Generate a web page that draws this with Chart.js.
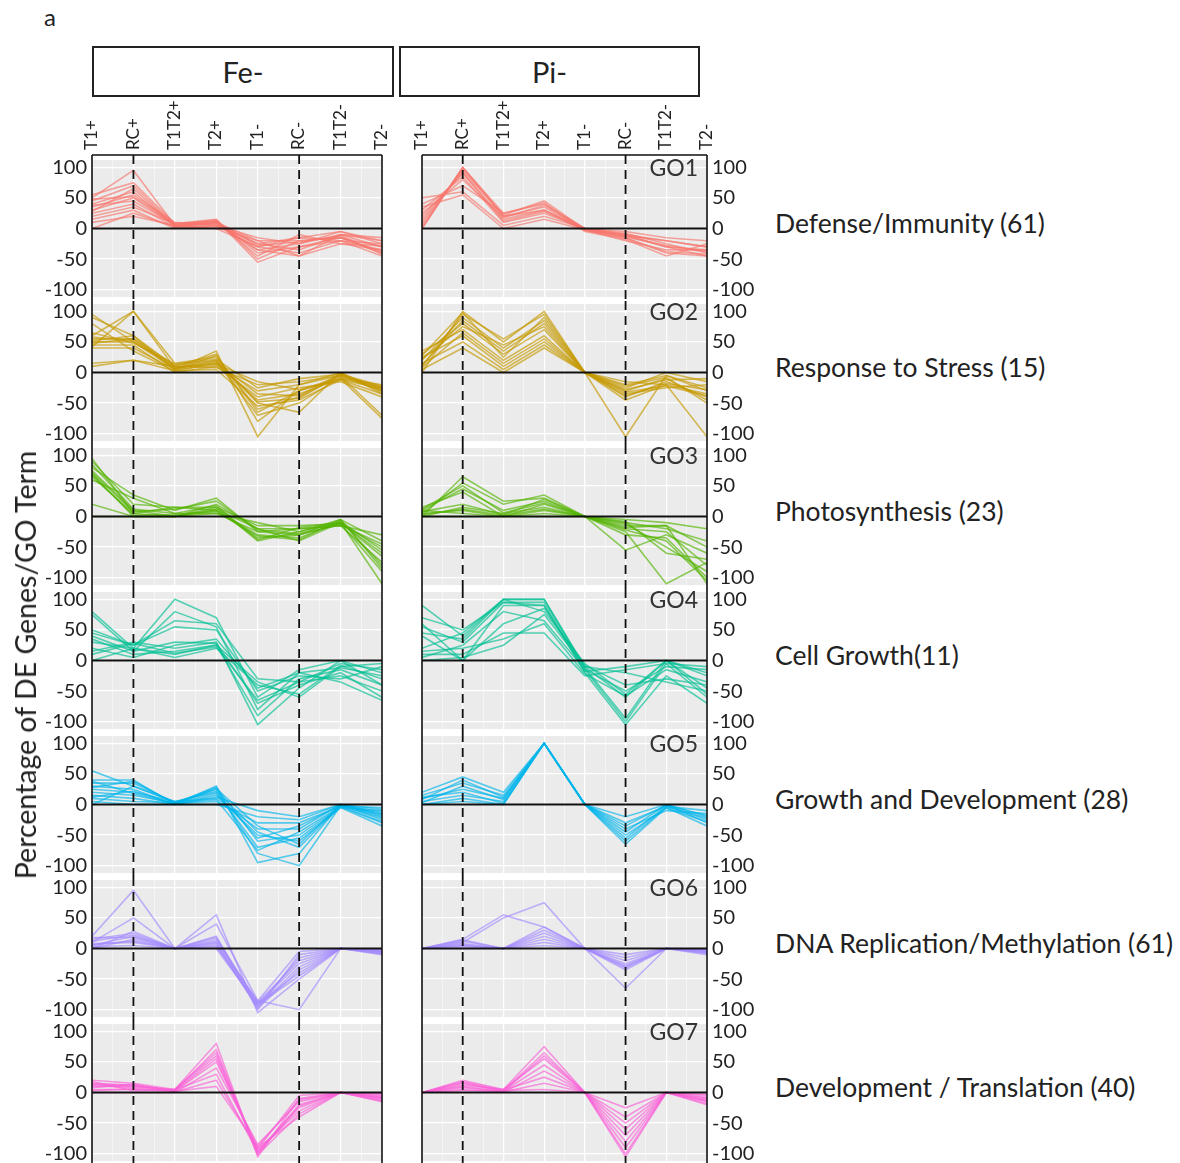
<!DOCTYPE html>
<html>
<head>
<meta charset="utf-8">
<script src="https://cdn.jsdelivr.net/npm/chart.js@4.4.0/dist/chart.umd.min.js"></script>
<style>
  body { margin: 0; background: #fff; font-family: Lato, "Open Sans", sans-serif; }
  #pagina { position: relative; width: 1180px; height: 1163px; overflow: hidden; }
  #pagina canvas { position: absolute; }
  .txt { position: absolute; color: #222; white-space: nowrap; }
  .tira { position: absolute; border: 2px solid #222; background: #fff; box-sizing: border-box;
          display: flex; align-items: center; justify-content: center; font-size: 29px; color: #222; }
</style>
</head>
<body>
<div id="pagina"></div>
<script>
// Categorias del eje X y marcas del eje Y
var categorias = ['T1+', 'RC+', 'T1T2+', 'T2+', 'T1-', 'RC-', 'T1T2-', 'T2-'];
var marcasY = [-100, -75, -50, -25, 0, 25, 50, 75, 100];
var condiciones = ['Fe-', 'Pi-'];
var etiquetasGO = ['GO1', 'GO2', 'GO3', 'GO4', 'GO5', 'GO6', 'GO7'];
var terminosGO = ['Defense/Immunity (61)', 'Response to Stress (15)', 'Photosynthesis (23)', 'Cell Growth(11)',
                  'Growth and Development (28)', 'DNA Replication/Methylation (61)', 'Development / Translation (40)'];

/* GO1 - Defense/Immunity */
var go1Fe = [
    [50, 95, 5, 10, -20, -45, -10, -30],
    [55, 75, 8, 15, -50, -20, -15, -40],
    [45, 70, 5, 12, -40, -30, -20, -35],
    [40, 60, 3, 10, -35, -25, -5, -25],
    [35, 55, 10, 5, -30, -15, -20, -45],
    [30, 50, 5, 8, -25, -35, -10, -20],
    [25, 40, 2, 3, -20, -20, -15, -30],
    [20, 35, 8, 12, -45, -10, -25, -35],
    [15, 30, 0, 5, -15, -25, -10, -15],
    [10, 20, 5, 0, -30, -40, -20, -25],
    [0, 25, 3, 6, -25, -15, -5, -20],
    [38, 45, 6, 14, -55, -30, -15, -38],
    [28, 65, 4, 9, -35, -45, -25, -28],
    [48, 52, 7, 11, -28, -22, -12, -42]
];
var go1Pi = [
    [0, 100, 25, 40, 0, -10, -20, -30],
    [10, 95, 20, 35, -2, -15, -40, -45],
    [20, 90, 15, 30, -3, -12, -30, -35],
    [30, 85, 10, 25, 0, -8, -25, -40],
    [40, 70, 25, 42, -5, -18, -45, -25],
    [50, 60, 5, 20, 0, -5, -15, -20],
    [35, 55, 0, 15, -2, -20, -35, -35],
    [0, 100, 20, 30, 0, -10, -30, -45],
    [5, 98, 22, 45, -1, -12, -20, -30],
    [15, 92, 12, 28, -3, -16, -38, -42],
    [25, 80, 18, 38, 0, -14, -28, -38]
];

/* GO2 - Response to Stress */
var go2Fe = [
    [95, 50, 5, 35, -105, -20, -5, -30],
    [90, 60, 10, 30, -80, -30, -10, -75],
    [60, 100, 15, 25, -60, -40, -5, -25],
    [55, 55, 12, 20, -50, -65, 0, -35],
    [50, 50, 8, 15, -45, -35, -10, -20],
    [45, 45, 0, 10, -40, -25, -15, -40],
    [40, 40, 5, 12, -30, -20, 0, -30],
    [15, 20, 10, 8, -20, -15, -5, -25],
    [10, 20, 3, 5, -55, -45, -12, -35],
    [48, 55, 6, 18, -70, -50, -8, -28],
    [65, 48, 14, 22, -25, -10, -3, -22],
    [52, 60, 4, 28, -65, -30, -6, -70],
    [80, 35, 2, 16, -35, -38, -2, -32],
    [58, 52, 9, 14, -15, -28, -12, -26],
    [42, 100, 7, 20, -48, -42, -4, -24]
];
var go2Pi = [
    [0, 100, 50, 100, 0, -105, -5, -30],
    [10, 95, 55, 95, 0, -45, -20, -105],
    [20, 90, 40, 85, 0, -40, -15, -40],
    [30, 80, 30, 70, 0, -35, -25, -20],
    [35, 70, 20, 60, 0, -30, -10, -45],
    [25, 60, 10, 50, 0, -25, 0, -15],
    [15, 50, 5, 45, 0, -20, -5, -25],
    [5, 40, 0, 40, 0, -15, -20, -35],
    [12, 85, 35, 80, 0, -28, -12, -10],
    [28, 98, 25, 90, 0, -38, -18, -28],
    [8, 65, 15, 55, 0, -22, -8, -50],
    [22, 75, 45, 75, 0, -32, -22, -38]
];

/* GO3 - Photosynthesis */
var go3Fe = [
    [95, 5, 0, 15, -40, -25, -10, -110],
    [90, 20, 15, 10, -35, -30, -5, -85],
    [80, 35, 10, 30, -25, -20, -15, -75],
    [75, 10, 0, 20, -20, -40, -10, -60],
    [70, 0, 0, 10, -30, -35, -8, -55],
    [65, 5, 15, 15, -15, -15, -12, -50],
    [60, 30, 5, 5, -10, -25, -5, -40],
    [20, 0, 0, 12, -20, -20, -15, -30],
    [0, 0, 0, 5, -25, -30, -12, -90],
    [85, 12, 5, 18, -38, -18, -10, -65],
    [72, 8, 12, 25, -22, -28, -14, -45],
    [68, 2, 3, 8, -32, -38, -6, -80]
];
var go3Pi = [
    [0, 65, 25, 30, 0, -5, -10, -20],
    [5, 55, 20, 35, 0, -10, -20, -40],
    [10, 45, 10, 25, 0, -15, -15, -110],
    [15, 40, 0, 20, 0, -20, -25, -80],
    [0, 15, 5, 15, 0, -55, -30, -60],
    [5, 10, 0, 10, 0, -25, -110, -75],
    [10, 5, 0, 5, 0, -30, -35, -100],
    [0, 0, 0, 0, 0, -12, -50, -90],
    [8, 20, 3, 28, 0, -8, -60, -70],
    [3, 12, 2, 12, 0, -18, -15, -50],
    [12, 50, 6, 22, 0, -22, -40, -105]
];

/* GO4 - Cell Growth */
var go4Fe = [
    [80, 20, 100, 70, -60, -15, 0, -40],
    [50, 25, 65, 60, -30, -35, -5, -15],
    [40, 15, 80, 55, -80, -20, -35, -65],
    [35, 10, 15, 25, -35, -60, -10, -5],
    [15, 30, 20, 30, -105, -45, 0, -20],
    [0, 20, 10, 25, -90, -30, -15, -40],
    [45, 25, 55, 50, -50, -25, -30, -10],
    [75, 15, 30, 28, -70, -40, -20, -60],
    [30, 20, 5, 20, -40, -55, -8, -30],
    [10, 28, 12, 22, -65, -35, -25, -50],
    [20, 5, 25, 35, -45, -20, -12, -25]
];
var go4Pi = [
    [90, 40, 100, 100, -10, -60, 0, -45],
    [70, 50, 95, 95, -15, -100, -5, -60],
    [60, 0, 90, 90, -20, -105, -25, -70],
    [45, 35, 100, 80, -5, -55, 0, -20],
    [10, 10, 45, 45, -25, -15, -5, -10],
    [0, 5, 25, 75, -10, -20, -35, -50],
    [20, 45, 100, 100, -12, -95, 0, -55],
    [5, 25, 80, 65, -15, -50, -10, -15],
    [40, 0, 60, 85, -8, -40, -30, -40],
    [55, 30, 95, 90, -18, -10, 0, -25],
    [15, 20, 35, 60, -22, -58, -15, -35]
];

/* GO5 - Growth and Development */
var go5Fe = [
    [55, 30, 5, 20, -70, -55, -5, -35],
    [40, 40, 0, 30, -95, -80, 0, -20],
    [35, 35, 3, 25, -80, -100, -2, -15],
    [30, 25, 0, 15, -50, -60, -5, -10],
    [25, 20, 5, 10, -40, -40, 0, -25],
    [20, 15, 2, 5, -30, -30, -3, -5],
    [15, 10, 0, 0, -20, -25, 0, -18],
    [10, 5, 3, 28, -60, -50, -4, -30],
    [5, 0, 0, 12, -10, -20, 0, -8],
    [0, 30, 4, 22, -45, -70, -2, -22],
    [38, 18, 1, 18, -55, -35, -1, -12],
    [28, 38, 2, 8, -75, -45, -3, -28],
    [12, 22, 0, 26, -35, -65, 0, -16]
];
var go5Pi = [
    [20, 45, 20, 100, 0, -65, -5, -35],
    [15, 35, 15, 100, 0, -55, -2, -25],
    [10, 25, 10, 100, 0, -45, 0, -20],
    [5, 15, 5, 100, 0, -40, -10, -15],
    [0, 10, 0, 100, 0, -30, -3, -10],
    [0, 5, 0, 100, 0, -20, 0, -30],
    [8, 40, 12, 100, 0, -50, -6, -28],
    [12, 20, 2, 100, 0, -35, -1, -18],
    [3, 30, 8, 100, 0, -60, -4, -22]
];

/* GO6 - DNA Replication/Methylation */
var go6Fe = [
    [20, 95, 0, 55, -105, -50, 0, -5],
    [10, 50, 0, 40, -85, -100, 0, -10],
    [15, 25, 0, 15, -90, -40, 0, -8],
    [5, 20, 0, 10, -95, -30, 0, -3],
    [0, 15, 0, 5, -88, -20, 0, -6],
    [8, 10, 0, 20, -100, -10, 0, -4],
    [12, 22, 0, 0, -92, -45, 0, -2],
    [3, 5, 0, 12, -86, -5, 0, -7],
    [18, 18, 0, 8, -98, -35, 0, -9],
    [6, 12, 0, 18, -90, -25, 0, -1],
    [0, 28, 0, 3, -94, -15, 0, -5]
];
var go6Pi = [
    [0, 15, 55, 35, 0, -65, 0, -10],
    [0, 10, 50, 75, 0, -30, 0, -5],
    [0, 12, 0, 35, 0, -35, 0, -8],
    [0, 8, 0, 25, 0, -25, 0, -3],
    [0, 5, 0, 15, 0, -20, 0, -6],
    [0, 3, 0, 30, 0, -15, 0, -2],
    [0, 0, 0, 10, 0, -10, 0, -4],
    [0, 14, 0, 20, 0, -28, 0, -7],
    [0, 6, 0, 5, 0, -32, 0, -1]
];

/* GO7 - Development / Translation */
var go7Fe = [
    [20, 15, 5, 80, -105, -10, 0, -15],
    [15, 12, 3, 70, -100, -20, 0, -10],
    [10, 10, 5, 60, -95, -30, 0, -8],
    [5, 5, 2, 50, -90, -40, 0, -5],
    [0, 0, 0, 40, -85, -15, 0, -12],
    [12, 8, 4, 30, -98, -25, 0, -3],
    [8, 14, 1, 20, -92, -5, 0, -7],
    [18, 3, 5, 65, -102, -35, 0, -14],
    [3, 6, 2, 10, -88, -12, 0, -2],
    [14, 11, 3, 55, -96, -22, 0, -9]
];
var go7Pi = [
    [0, 20, 5, 75, 0, -105, 0, -20],
    [0, 15, 3, 65, 0, -90, 0, -15],
    [0, 12, 5, 55, 0, -80, 0, -10],
    [0, 8, 2, 45, 0, -70, 0, -5],
    [0, 5, 0, 35, 0, -60, 0, -12],
    [0, 18, 4, 25, 0, -50, 0, -8],
    [0, 10, 1, 15, 0, -40, 0, -18],
    [0, 3, 3, 5, 0, -25, 0, -3],
    [0, 16, 2, 60, 0, -100, 0, -14]
];

var datosGO = [[go1Fe, go1Pi], [go2Fe, go2Pi], [go3Fe, go3Pi], [go4Fe, go4Pi],
               [go5Fe, go5Pi], [go6Fe, go6Pi], [go7Fe, go7Pi]];

// Colores por defecto de ggplot (7 tonos)
var colores = ['248, 118, 109', '196, 154, 0', '83, 180, 0', '0, 192, 148',
               '0, 182, 235', '165, 138, 255', '251, 97, 215'];

var pagina = document.getElementById('pagina');
var ceroY = 229;      // linea cero de la primera fila
var pasoFila = 144;   // distancia entre filas
var fuente = 'Lato, "Open Sans", sans-serif';

// columna izquierda (Fe-) con eje a la izquierda, columna derecha (Pi-) con eje a la derecha
var columnas = [
    { left: 30, width: 360, padL: 0, padR: 8, posY: 'left', anchoY: 62 },
    { left: 400, width: 360, padL: 22, padR: 0, posY: 'right', anchoY: 53 }
];

function texto(contenido, estilo) {
    var d = document.createElement('div');
    d.className = 'txt';
    d.textContent = contenido;
    Object.assign(d.style, estilo);
    pagina.appendChild(d);
    return d;
}

// fondo gris, linea cero, lineas discontinuas y bordes del panel
var pluginPanel = {
    id: 'panel',
    beforeDraw: function (chart) {
        var a = chart.chartArea, ctx = chart.ctx;
        ctx.save();
        ctx.fillStyle = '#EBEBEB';
        ctx.fillRect(a.left, a.top, a.right - a.left, a.bottom - a.top);
        ctx.restore();
    },
    afterDatasetsDraw: function (chart, args, opts) {
        var a = chart.chartArea, ctx = chart.ctx;
        var sx = chart.scales.x, sy = chart.scales.y;
        var desde = opts.primera ? a.top - 5 : 0;
        ctx.save();
        ctx.strokeStyle = '#111';

        // linea horizontal en cero
        ctx.lineWidth = 2;
        var y0 = sy.getPixelForValue(0);
        ctx.beginPath();
        ctx.moveTo(a.left, y0);
        ctx.lineTo(a.right, y0);
        ctx.stroke();

        // lineas discontinuas en RC+ y RC-
        ctx.lineWidth = 1.8;
        ctx.setLineDash([9, 6]);
        [1, 5].forEach(function (v) {
            var x = sx.getPixelForValue(v);
            ctx.beginPath();
            ctx.moveTo(x, desde);
            ctx.lineTo(x, chart.height);
            ctx.stroke();
        });
        ctx.setLineDash([]);

        // bordes de la caja
        ctx.lineWidth = 1.6;
        ctx.beginPath();
        ctx.moveTo(a.left, desde);
        ctx.lineTo(a.left, chart.height);
        ctx.moveTo(a.right, desde);
        ctx.lineTo(a.right, chart.height);
        if (opts.primera) {
            ctx.moveTo(a.left, desde);
            ctx.lineTo(a.right, desde);
        }
        ctx.stroke();
        ctx.restore();
    }
};

function crearPanel(f, c) {
    var col = columnas[c];
    var cero = ceroY + f * pasoFila;
    var primera = f === 0;
    var top = primera ? 90 : cero - 72;
    var alto = cero + 72 - top;

    var canvas = document.createElement('canvas');
    canvas.width = col.width;
    canvas.height = alto;
    canvas.style.left = col.left + 'px';
    canvas.style.top = top + 'px';
    pagina.appendChild(canvas);

    // una linea por gen / termino
    var datasets = datosGO[f][c].map(function (valores) {
        return {
            data: valores.map(function (v, i) { return { x: i, y: v }; }),
            borderColor: 'rgba(' + colores[f] + ', 0.65)',
            borderWidth: 1.6,
            pointRadius: 0,
            fill: false
        };
    });

    new Chart(canvas.getContext('2d'), {
        type: 'line',
        data: { datasets: datasets },
        options: {
            responsive: false,
            animation: false,
            layout: { padding: { left: col.padL, right: col.padR, top: primera ? 0 : 3, bottom: 4 } },
            plugins: {
                legend: { display: false },
                tooltip: { enabled: false },
                panel: { primera: primera }
            },
            scales: {
                x: {
                    type: 'linear',
                    position: 'top',
                    min: 0,
                    max: categorias.length - 1,
                    afterBuildTicks: function (s) {
                        var t = [];
                        for (var i = 0; i <= (categorias.length - 1) * 2; i++) t.push({ value: i / 2 });
                        s.ticks = t;
                    },
                    afterFit: function (s) {
                        s.height = primera ? 70 : 0;
                        s.paddingLeft = 0;
                        s.paddingRight = 0;
                    },
                    grid: {
                        color: '#fff',
                        drawTicks: false,
                        lineWidth: function (ctx) { return Number.isInteger(ctx.tick.value) ? 1.2 : 0.5; }
                    },
                    border: { display: false },
                    ticks: {
                        display: primera,
                        autoSkip: false,
                        minRotation: 90,
                        maxRotation: 90,
                        padding: 10,
                        labelOffset: 20,
                        color: '#222',
                        font: { family: fuente, size: 17 },
                        callback: function (v) { return Number.isInteger(v) ? categorias[v] : ''; }
                    }
                },
                y: {
                    position: col.posY,
                    min: -112,
                    max: 112,
                    afterBuildTicks: function (s) {
                        s.ticks = marcasY.map(function (v) { return { value: v }; });
                    },
                    afterFit: function (s) {
                        s.width = col.anchoY;
                        s.paddingTop = 0;
                        s.paddingBottom = 0;
                    },
                    grid: {
                        color: '#fff',
                        drawTicks: false,
                        lineWidth: function (ctx) { return ctx.tick.value % 50 === 0 ? 1.2 : 0.5; }
                    },
                    border: { display: false },
                    ticks: {
                        padding: 5,
                        color: '#222',
                        font: { family: fuente, size: 20 },
                        callback: function (v) { return v % 50 === 0 ? String(v) : ''; }
                    }
                }
            }
        },
        plugins: [pluginPanel]
    });
}

for (var f = 0; f < datosGO.length; f++) {
    crearPanel(f, 0);
    crearPanel(f, 1);
    var cero = ceroY + f * pasoFila;
    texto(etiquetasGO[f], { right: (1180 - 698) + 'px', top: (cero - 75) + 'px', fontSize: '23px', lineHeight: '26px', color: '#333' });
    texto(terminosGO[f], { left: '775px', top: (cero - 22) + 'px', fontSize: '26.5px', lineHeight: '32px' });
}

// cajas de condicion
texto('a', { left: '44px', top: '3px', fontSize: '24px', lineHeight: '28px' });
var tiras = [{ left: 92, width: 302 }, { left: 399, width: 301 }];
condiciones.forEach(function (nombre, i) {
    var d = document.createElement('div');
    d.className = 'tira';
    d.textContent = nombre;
    d.style.left = tiras[i].left + 'px';
    d.style.top = '46px';
    d.style.width = tiras[i].width + 'px';
    d.style.height = '51px';
    pagina.appendChild(d);
});

// titulo del eje Y
texto('Percentage of DE Genes/GO Term', {
    left: '25px', top: '665px', fontSize: '28.5px', lineHeight: '32px',
    transform: 'translate(-50%, -50%) rotate(-90deg)'
});
</script>
</body>
</html>
